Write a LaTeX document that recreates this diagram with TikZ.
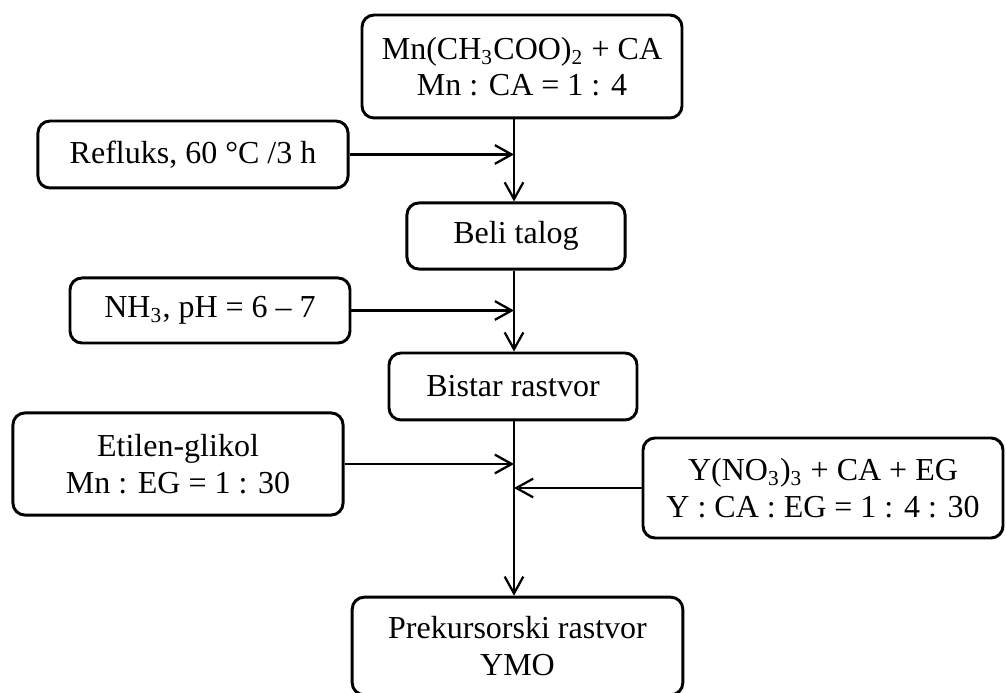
\documentclass[tikz,border=0pt]{standalone}
\usepackage{fontspec}
\setmainfont{Liberation Serif}
\usetikzlibrary{arrows.meta}
\begin{document}
\begin{tikzpicture}[x=0.375pt,y=-0.375pt,
  stepbox/.style={draw,line width=1.1pt,rounded corners=4.5pt,align=center,inner sep=0pt,
    font=\fontsize{12}{13.6}\selectfont},
  arr/.style={line width=0.85pt,-{Straight Barb[length=6.3pt,width=7pt,line width=0.85pt]}}]
\useasboundingbox (0,0) rectangle (1006,693);
\coordinate (spine) at (514,0);
\node[stepbox,minimum width=120pt,minimum height=38.6pt](top) at (522,66.5){Mn(CH\textsubscript{3}COO)\textsubscript{2} + CA\\Mn : CA = 1 : 4};
\node[stepbox,minimum width=116.3pt,minimum height=25.1pt](reflux) at (193,154.5){Refluks, 60 °C /3 h};
\node[stepbox,minimum width=81.8pt,minimum height=24.8pt](beli) at (516,236){Beli talog};
\node[stepbox,minimum width=105pt,minimum height=24.4pt](nh3) at (210,310.5){NH\textsubscript{3}, pH = 6 – 7};
\node[stepbox,minimum width=93pt,minimum height=25.1pt](bistar) at (513,386.5){Bistar rastvor};
\node[stepbox,minimum width=123.8pt,minimum height=38.3pt](etilen) at (178,464){Etilen-glikol\\Mn : EG = 1 : 30};
\node[stepbox,minimum width=135pt,minimum height=37.5pt](ynot) at (823,488){Y(NO\textsubscript{3})\textsubscript{3} + CA + EG\\Y : CA : EG = 1 : 4 : 30};
\node[stepbox,minimum width=124pt,minimum height=36.6pt](prek) at (517.5,646){Prekursorski rastvor\\YMO};
% glavni tok
\draw[arr] (top.south -| spine) -- (beli.north -| spine);
\draw[arr] (beli.south -| spine) -- (bistar.north -| spine);
\draw[arr] (bistar.south -| spine) -- (prek.north -| spine);
% dodaci
\foreach \n in {reflux,nh3,etilen}
  \draw[arr] (\n.east) -- (\n.east -| spine);
\draw[arr] (ynot.west) -- (ynot.west -| spine);
\end{tikzpicture}
\end{document}
